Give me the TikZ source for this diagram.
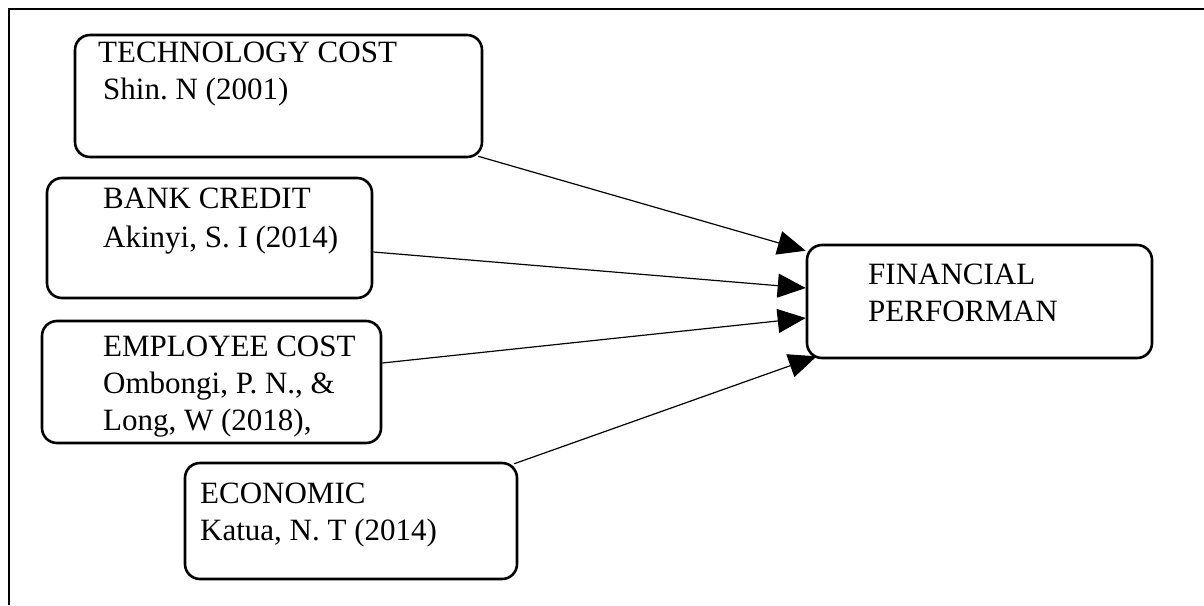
\documentclass[tikz,border=0pt]{standalone}
\usepackage{fontspec}
\setmainfont{Liberation Serif}
\usetikzlibrary{arrows.meta}
\frenchspacing
\begin{document}
\begin{tikzpicture}[x=1pt,y=-1pt,
  box/.style={draw, line width=2.6pt, rounded corners=15pt, inner sep=0pt, minimum width=#1},
  txt/.style={anchor=base west, inner sep=0pt, font=\fontsize{31}{37}\selectfont},
  link/.style={line width=1.2pt, -{Triangle[length=28pt,width=24pt]}},
  frame/.style={line width=2pt}]
  \useasboundingbox (0,0) rectangle (1204,605);

  % open frame: top and left edges only
  \draw[frame] (1204,9) -- (9,9) -- (9,605);

  % factor boxes
  \node[box=407pt, minimum height=122pt] (tech) at (278.5,96) {};
  \node[box=325pt, minimum height=120pt] (bank) at (209.5,238) {};
  \node[box=339pt, minimum height=122pt] (emp)  at (211.5,382) {};
  \node[box=332pt, minimum height=116pt] (econ) at (351,521) {};
  \node[box=345pt, minimum height=113pt] (fin)  at (979.5,301.5) {};

  % box texts
  \node[txt] (tech1) at (98,62)  {TECHNOLOGY COST};
  \node[txt] (tech2) at (103,99) {Shin. N (2001)};
  \node[txt] (bank1) at (103,208) {BANK CREDIT};
  \node[txt] (bank2) at (103,247) {Akinyi, S. I (2014)};
  \node[txt] (emp1) at (103,356) {EMPLOYEE COST};
  \node[txt] (emp2) at (103,393) {Ombongi, P. N., \&};
  \node[txt] (emp3) at (103,430) {Long, W (2018),};
  \node[txt] (econ1) at (200,503) {ECONOMIC};
  \node[txt] (econ2) at (200,540) {Katua, N. T (2014)};
  \node[txt] (fin1) at (868,284) {FINANCIAL};
  \node[txt] (fin2) at (868,321) {PERFORMAN};

  % influences on financial performance
  \draw[link] ([shift={(-5,-2)}]tech.south east) -- ([shift={(0,7)}]fin.north west);
  \draw[link] ([shift={(0,14)}]bank.east) -- ([shift={(0,-13.5)}]fin.west);
  \draw[link] ([shift={(0,-19)}]emp.east) -- ([shift={(0,16.5)}]fin.west);
  \draw[link] ([shift={(-4,2)}]econ.north east) -- ([shift={(11,-3)}]fin.south west);
\end{tikzpicture}
\end{document}
